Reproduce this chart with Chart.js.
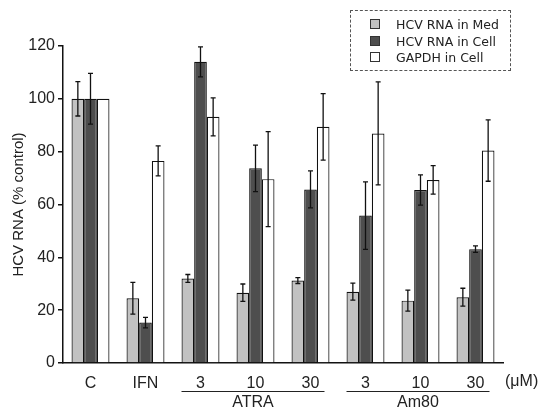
<!DOCTYPE html>
<html lang="en">
<head>
  <meta charset="UTF-8">
  <title>HCV RNA (% control)</title>
  <script src="https://cdn.jsdelivr.net/npm/chart.js"></script>
  <style>
    body { margin: 0; background: #fff; }
    #wrap { position: relative; width: 540px; height: 410px; }
    #legend {
      position: absolute; left: 350px; top: 10px; width: 161px; height: 61px;
      border: 1px dashed #555; box-sizing: border-box; padding: 6px 0 0 19px;
      font: 12.5px "DejaVu Sans", sans-serif; color: #222;
    }
    #legend div { height: 16.5px; line-height: 16.5px; white-space: nowrap; }
    #legend span { display: inline-block; width: 8px; height: 8px; border: 1px solid #333; margin-right: 16px; vertical-align: 0px; }
  </style>
</head>
<body>
<div id="wrap">
  <canvas id="chart" width="540" height="410"></canvas>
  <div id="legend"></div>
</div>
<script>
  const categories = ['C', 'IFN', '3', '10', '30', '3', '10', '30'];
  const seriesNames = ['HCV RNA in Med', 'HCV RNA in Cell', 'GAPDH in Cell'];
  const medValues = [100, 24.5, 32, 26.6, 31.2, 27, 23.6, 24.9];
  const medErrors = [6.5, 6, 1.5, 3.3, 1.1, 3.2, 4, 3.4];
  const cellValues = [100, 15.3, 114, 73.7, 65.7, 55.8, 65.5, 43.1];
  const cellErrors = [9.6, 2, 5.7, 8.8, 7, 12.8, 5.7, 1.2];
  const gapdhValues = [100, 76.5, 93.2, 69.6, 89.4, 86.9, 69.3, 80.4];
  const gapdhErrors = [0, 5.7, 7.2, 18, 12.6, 19.5, 5.4, 11.6];
  const yTicks = [0, 20, 40, 60, 80, 100, 120];
  const groups = [
    { name: 'ATRA', from: 2, to: 4 },
    { name: 'Am80', from: 5, to: 7 }
  ];
  const unitLabel = '(\u03bcM)';

  const colors = ['#c2c2c2', '#4e4e4e', '#ffffff'];
  const errs = [medErrors, cellErrors, gapdhErrors];
  const font = '"Liberation Sans", Arial, sans-serif';

  // legend as html
  const legend = document.getElementById('legend');
  seriesNames.forEach((n, i) => {
    const row = document.createElement('div');
    row.innerHTML = '<span style="background:' + colors[i] + '"></span>' + n;
    legend.appendChild(row);
  });

  const errorBars = {
    id: 'errorBars',
    afterDatasetsDraw(chart) {
      const ctx = chart.ctx;
      const y = chart.scales.y;
      ctx.save();
      ctx.strokeStyle = '#111';
      ctx.lineWidth = 1.3;
      chart.data.datasets.forEach((ds, di) => {
        const meta = chart.getDatasetMeta(di);
        meta.data.forEach((bar, i) => {
          const e = errs[di][i];
          if (!e) return;
          const v = ds.data[i];
          const top = y.getPixelForValue(v + e);
          const bot = y.getPixelForValue(v - e);
          ctx.beginPath();
          ctx.moveTo(bar.x, top); ctx.lineTo(bar.x, bot);
          ctx.moveTo(bar.x - 2.5, top); ctx.lineTo(bar.x + 2.5, top);
          ctx.moveTo(bar.x - 2.5, bot); ctx.lineTo(bar.x + 2.5, bot);
          ctx.stroke();
        });
      });
      ctx.restore();
    }
  };

  const groupLabels = {
    id: 'groupLabels',
    afterDraw(chart) {
      const ctx = chart.ctx;
      const x = chart.scales.x;
      ctx.save();
      ctx.fillStyle = '#222';
      ctx.strokeStyle = '#222';
      ctx.lineWidth = 1;
      ctx.font = '16px ' + font;
      ctx.textAlign = 'center';
      ctx.textBaseline = 'middle';
      groups.forEach(g => {
        const x0 = x.getPixelForValue(g.from) - 19;
        const x1 = x.getPixelForValue(g.to) + 14;
        ctx.beginPath();
        ctx.moveTo(x0, 391.5); ctx.lineTo(x1, 391.5);
        ctx.stroke();
        ctx.fillText(g.name, (x0 + x1) / 2, 403);
      });
      ctx.textAlign = 'left';
      ctx.fillText(unitLabel, x.right + 2, 382);
      ctx.restore();
    }
  };

  new Chart(document.getElementById('chart'), {
    type: 'bar',
    data: {
      labels: categories,
      datasets: [medValues, cellValues, gapdhValues].map((d, i) => ({
        label: seriesNames[i],
        data: d,
        backgroundColor: colors[i],
        borderColor: '#111',
        borderWidth: 1.2,
        categoryPercentage: 0.69,
        barPercentage: 1.0
      }))
    },
    options: {
      responsive: false,
      animation: false,
      layout: { padding: { left: 0, right: 37, top: 46, bottom: 0 } },
      plugins: { legend: { display: false }, tooltip: { enabled: false } },
      scales: {
        x: {
          grid: { display: false },
          border: { display: true, color: '#111', width: 1.5 },
          ticks: { color: '#222', font: { family: font, size: 16 }, padding: 3 },
          afterFit(s) { s.height = 47; }
        },
        y: {
          min: 0, max: 120,
          afterBuildTicks(s) { s.ticks = yTicks.map(v => ({ value: v })); },
          grid: { drawOnChartArea: false, tickLength: 5, color: '#111', lineWidth: 1.5 },
          border: { display: true, color: '#111', width: 1.5 },
          ticks: { color: '#222', font: { family: font, size: 16 }, padding: 3 },
          title: { display: true, text: 'HCV RNA (% control)', color: '#222', font: { family: font, size: 15 }, padding: { top: 10, bottom: 0 } },
          afterFit(s) { s.width = 63; }
        }
      }
    },
    plugins: [errorBars, groupLabels]
  });
</script>
</body>
</html>
